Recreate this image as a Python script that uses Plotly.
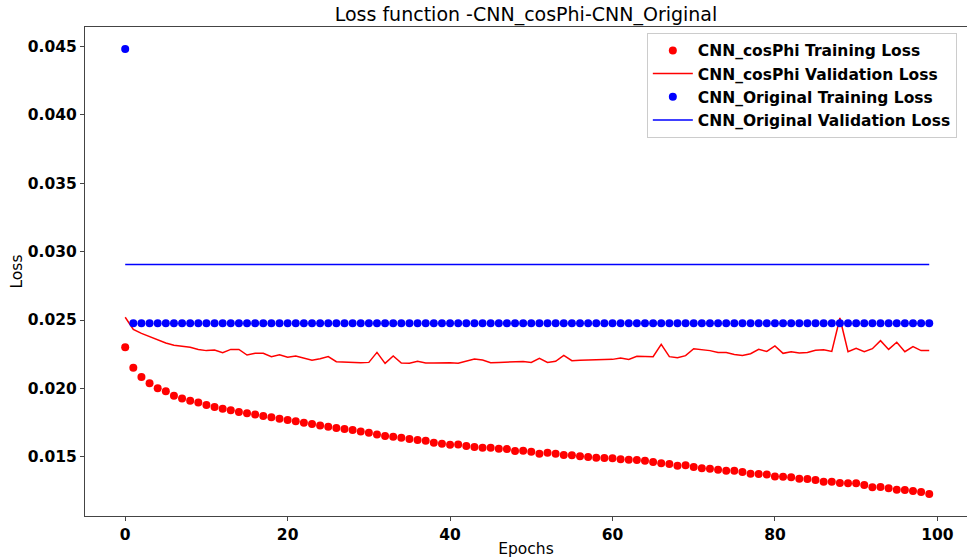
import plotly.graph_objects as go

epochs = list(range(100))

cosphi_train = [
    0.02300, 0.02151, 0.02083, 0.02037, 0.02000, 0.01978, 0.01946, 0.01925, 0.01910, 0.01896,
    0.01878, 0.01864, 0.01851, 0.01839, 0.01827, 0.01817, 0.01808, 0.01798, 0.01788, 0.01778,
    0.01768, 0.01759, 0.01749, 0.01739, 0.01729, 0.01720, 0.01710, 0.01702, 0.01695, 0.01685,
    0.01676, 0.01663, 0.01651, 0.01646, 0.01639, 0.01629, 0.01622, 0.01617, 0.01602, 0.01595,
    0.01588, 0.01590, 0.01578, 0.01571, 0.01566, 0.01566, 0.01559, 0.01556, 0.01542, 0.01544,
    0.01537, 0.01522, 0.01529, 0.01522, 0.01512, 0.01510, 0.01503, 0.01498, 0.01493, 0.01490,
    0.01488, 0.01481, 0.01478, 0.01476, 0.01471, 0.01462, 0.01452, 0.01447, 0.01434, 0.01437,
    0.01425, 0.01415, 0.01412, 0.01405, 0.01398, 0.01398, 0.01388, 0.01376, 0.01373, 0.01369,
    0.01356, 0.01354, 0.01349, 0.01339, 0.01337, 0.01330, 0.01317, 0.01317, 0.01308, 0.01305,
    0.01305, 0.01293, 0.01276, 0.01278, 0.01269, 0.01258, 0.01256, 0.01249, 0.01242, 0.01227,
]

cosphi_val = [
    0.02520, 0.02432, 0.02402, 0.02378, 0.02356, 0.02332, 0.02315, 0.02310, 0.02300, 0.02285,
    0.02276, 0.02281, 0.02261, 0.02285, 0.02285, 0.02244, 0.02256, 0.02256, 0.02232, 0.02246,
    0.02227, 0.02237, 0.02222, 0.02205, 0.02217, 0.02232, 0.02195, 0.02193, 0.02188, 0.02188,
    0.02190, 0.02263, 0.02183, 0.02237, 0.02185, 0.02183, 0.02198, 0.02185, 0.02185, 0.02188,
    0.02188, 0.02183, 0.02200, 0.02215, 0.02207, 0.02188, 0.02190, 0.02193, 0.02195, 0.02197,
    0.02190, 0.02219, 0.02190, 0.02198, 0.02241, 0.02202, 0.02205, 0.02207, 0.02207, 0.02210,
    0.02212, 0.02222, 0.02212, 0.02234, 0.02234, 0.02232, 0.02322, 0.02232, 0.02224, 0.02239,
    0.02290, 0.02283, 0.02276, 0.02263, 0.02263, 0.02248, 0.02241, 0.02253, 0.02285, 0.02270,
    0.02310, 0.02256, 0.02268, 0.02259, 0.02263, 0.02278, 0.02283, 0.02270, 0.02515, 0.02268,
    0.02293, 0.02268, 0.02290, 0.02349, 0.02285, 0.02337, 0.02268, 0.02305, 0.02276, 0.02276,
]

original_train = [
    0.04482, 0.02476, 0.02476, 0.02476, 0.02476, 0.02476, 0.02476, 0.02476, 0.02476, 0.02476,
    0.02476, 0.02476, 0.02476, 0.02476, 0.02476, 0.02476, 0.02476, 0.02476, 0.02476, 0.02476,
    0.02476, 0.02476, 0.02476, 0.02476, 0.02476, 0.02476, 0.02476, 0.02476, 0.02476, 0.02476,
    0.02476, 0.02476, 0.02476, 0.02476, 0.02476, 0.02476, 0.02476, 0.02476, 0.02476, 0.02476,
    0.02476, 0.02476, 0.02476, 0.02476, 0.02476, 0.02476, 0.02476, 0.02476, 0.02476, 0.02476,
    0.02476, 0.02476, 0.02476, 0.02476, 0.02476, 0.02476, 0.02476, 0.02476, 0.02476, 0.02476,
    0.02476, 0.02476, 0.02476, 0.02476, 0.02476, 0.02476, 0.02476, 0.02476, 0.02476, 0.02476,
    0.02476, 0.02476, 0.02476, 0.02476, 0.02476, 0.02476, 0.02476, 0.02476, 0.02476, 0.02476,
    0.02476, 0.02476, 0.02476, 0.02476, 0.02476, 0.02476, 0.02476, 0.02476, 0.02476, 0.02476,
    0.02476, 0.02476, 0.02476, 0.02476, 0.02476, 0.02476, 0.02476, 0.02476, 0.02476, 0.02476,
]

original_val = [
    0.02906, 0.02906, 0.02906, 0.02906, 0.02906, 0.02906, 0.02906, 0.02906, 0.02906, 0.02906,
    0.02906, 0.02906, 0.02906, 0.02906, 0.02906, 0.02906, 0.02906, 0.02906, 0.02906, 0.02906,
    0.02906, 0.02906, 0.02906, 0.02906, 0.02906, 0.02906, 0.02906, 0.02906, 0.02906, 0.02906,
    0.02906, 0.02906, 0.02906, 0.02906, 0.02906, 0.02906, 0.02906, 0.02906, 0.02906, 0.02906,
    0.02906, 0.02906, 0.02906, 0.02906, 0.02906, 0.02906, 0.02906, 0.02906, 0.02906, 0.02906,
    0.02906, 0.02906, 0.02906, 0.02906, 0.02906, 0.02906, 0.02906, 0.02906, 0.02906, 0.02906,
    0.02906, 0.02906, 0.02906, 0.02906, 0.02906, 0.02906, 0.02906, 0.02906, 0.02906, 0.02906,
    0.02906, 0.02906, 0.02906, 0.02906, 0.02906, 0.02906, 0.02906, 0.02906, 0.02906, 0.02906,
    0.02906, 0.02906, 0.02906, 0.02906, 0.02906, 0.02906, 0.02906, 0.02906, 0.02906, 0.02906,
    0.02906, 0.02906, 0.02906, 0.02906, 0.02906, 0.02906, 0.02906, 0.02906, 0.02906, 0.02906,
]

x_ticks = [0, 20, 40, 60, 80, 100]
y_ticks = [0.015, 0.020, 0.025, 0.030, 0.035, 0.040, 0.045]

FONT = "DejaVu Sans"

fig = go.Figure()
fig.add_trace(go.Scatter(x=epochs, y=cosphi_train, mode="markers",
                         marker=dict(color="#ff0000", size=8),
                         name="CNN_cosPhi Training Loss"))
fig.add_trace(go.Scatter(x=epochs, y=cosphi_val, mode="lines",
                         line=dict(color="#ff0000", width=1.5),
                         name="CNN_cosPhi Validation Loss"))
fig.add_trace(go.Scatter(x=epochs, y=original_train, mode="markers",
                         marker=dict(color="#0000ff", size=8),
                         name="CNN_Original Training Loss"))
fig.add_trace(go.Scatter(x=epochs, y=original_val, mode="lines",
                         line=dict(color="#0000ff", width=1.5),
                         name="CNN_Original Validation Loss"))

fig.update_layout(
    width=967, height=558,
    margin=dict(l=85, r=0, t=27, b=42),
    paper_bgcolor="white", plot_bgcolor="white",
    font=dict(family=FONT, color="black"),
    title=dict(text="Loss function -CNN_cosPhi-CNN_Original",
               x=0.5, xref="paper", xanchor="center",
               y=1 - 14 / 558, yref="container", yanchor="middle",
               font=dict(family=FONT, size=19, color="black")),
    legend=dict(x=0.637, xanchor="left", y=0.988, yanchor="top",
                bgcolor="rgba(255,255,255,0.8)", bordercolor="#cccccc", borderwidth=1,
                font=dict(family=FONT, size=15.5, color="black", weight="bold"),
                itemwidth=40),
    showlegend=True,
)

fig.update_xaxes(
    range=[-4.95, 103.65], tickvals=x_ticks, ticktext=[str(v) for v in x_ticks],
    showgrid=False, zeroline=False, automargin=False,
    showline=True, linecolor="#444444", linewidth=1.2, mirror=True,
    ticks="outside", ticklen=4, tickcolor="#444444",
    tickfont=dict(family=FONT, size=15.5, color="black", weight="bold"),
    title=dict(text="Epochs", font=dict(family=FONT, size=15.5, color="black"), standoff=2),
)
fig.update_yaxes(
    range=[0.010662, 0.046434], tickvals=y_ticks, tickformat=".3f",
    showgrid=False, zeroline=False, automargin=False,
    showline=True, linecolor="#444444", linewidth=1.2, mirror=False,
    ticks="outside", ticklen=4, tickcolor="#444444",
    tickfont=dict(family=FONT, size=15.5, color="black", weight="bold"),
    title=dict(text="Loss", font=dict(family=FONT, size=15.5, color="black"), standoff=1),
)

fig.write_html(
    "out.html",
    config={"displayModeBar": False},
    post_script="document.body.style.margin='0';document.body.style.padding='0';document.body.style.overflow='hidden';",
)
